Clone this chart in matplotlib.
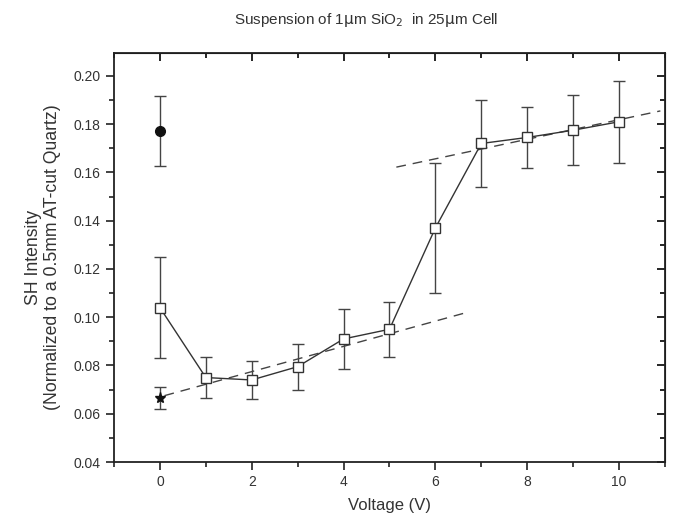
import matplotlib
matplotlib.use('Agg')
import matplotlib.pyplot as plt
from matplotlib.ticker import MultipleLocator

plt.rcParams['font.family'] = ['Liberation Sans', 'DejaVu Sans']

# Data
voltage = [0, 1, 2, 3, 4, 5, 6, 7, 8, 9, 10]
intensity = [0.104, 0.075, 0.074, 0.0795, 0.091, 0.095, 0.137, 0.172, 0.1745, 0.1775, 0.181]
intensity_err = [0.021, 0.0085, 0.008, 0.0095, 0.0125, 0.0115, 0.027, 0.018, 0.0125, 0.0145, 0.017]

circle_x = [0]
circle_y = [0.177]
circle_err = [0.0145]

star_x = [0]
star_y = [0.0665]
star_err = [0.0045]

# dashed fit lines (start / end)
fit_low_x = [0.1, 6.65]
fit_low_y = [0.0675, 0.1018]
fit_high_x = [5.15, 10.9]
fit_high_y = [0.1622, 0.1855]

fig = plt.figure(figsize=(6.74, 5.3), dpi=100)
ax = fig.add_axes([0.1691, 0.1283, 0.8175, 0.7717])

dark = '#333333'
ax.plot(fit_low_x, fit_low_y, ls=(0, (7, 5)), color='#444444', lw=1.0)
ax.plot(fit_high_x, fit_high_y, ls=(0, (7, 5)), color='#444444', lw=1.0)

ax.errorbar(voltage, intensity, yerr=intensity_err, fmt='s-', color=dark,
            lw=1.0, ms=7, mfc='white', mec=dark, mew=1.0,
            ecolor='#444444', elinewidth=1.0, capsize=4, zorder=3)
ax.errorbar(circle_x, circle_y, yerr=circle_err, fmt='o', color='#111111',
            ms=7, ecolor='#444444', elinewidth=1.0, capsize=4, zorder=3)
ax.errorbar(star_x, star_y, yerr=star_err, fmt='*', color='#111111',
            ms=8, ecolor='#444444', elinewidth=1.0, capsize=4, zorder=3)

ax.set_xlim(-1, 11)
ax.set_ylim(0.04, 0.2095)
ax.xaxis.set_major_locator(MultipleLocator(2))
ax.xaxis.set_minor_locator(MultipleLocator(1))
ax.yaxis.set_major_locator(MultipleLocator(0.02))
ax.yaxis.set_minor_locator(MultipleLocator(0.01))
ax.yaxis.set_major_formatter(plt.FuncFormatter(lambda v, p: f'{v:.2f}'))

for s in ax.spines.values():
    s.set_linewidth(1.3)
    s.set_color('#222222')
ax.tick_params(which='major', direction='out', length=6, width=1.2,
               labelsize=10, labelcolor='#333333', color='#222222')
ax.tick_params(which='minor', direction='out', length=3.5, width=1.2, color='#222222')

top = ax.secondary_xaxis('top')
top.xaxis.set_major_locator(MultipleLocator(2))
top.xaxis.set_minor_locator(MultipleLocator(1))
top.tick_params(which='major', direction='in', length=6, width=1.2, labeltop=False)
top.tick_params(which='minor', direction='in', length=3.5, width=1.2)
right = ax.secondary_yaxis('right')
right.yaxis.set_major_locator(MultipleLocator(0.02))
right.yaxis.set_minor_locator(MultipleLocator(0.01))
right.tick_params(which='major', direction='in', length=6, width=1.2, labelright=False)
right.tick_params(which='minor', direction='in', length=3.5, width=1.2)

ax.set_xlabel('Voltage (V)', fontsize=12, color='#333333', labelpad=6)
ax.set_ylabel('SH Intensity\n(Normalized to a 0.5mm AT-cut Quartz)', fontsize=12.7,
              color='#333333', labelpad=9)
fig.text(0.543, 0.962, 'Suspension of 1$\\mathrm{\\mu}$m SiO$_2$  in 25$\\mathrm{\\mu}$m Cell',
         ha='center', va='center', fontsize=11, color='#333333')

fig.savefig('out.png', dpi=100)
